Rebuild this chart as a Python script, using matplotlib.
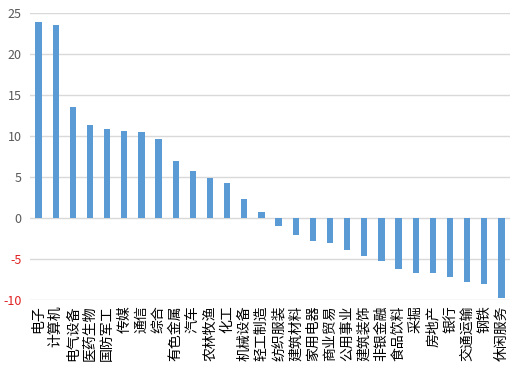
import matplotlib
matplotlib.use('Agg')
from matplotlib import pyplot as plt
import numpy as np

plt.rcParams['font.family'] = ['Noto Sans CJK SC', 'DejaVu Sans']

sectors = ['电子', '计算机', '电气设备', '医药生物', '国防军工', '传媒', '通信', '综合',
           '有色金属', '汽车', '农林牧渔', '化工', '机械设备', '轻工制造', '纺织服装',
           '建筑材料', '家用电器', '商业贸易', '公用事业', '建筑装饰', '非银金融',
           '食品饮料', '采掘', '房地产', '银行', '交通运输', '钢铁', '休闲服务']
returns = [23.9, 23.45, 13.45, 11.35, 10.8, 10.55, 10.4, 9.55,
           6.9, 5.65, 4.8, 4.3, 2.35, 0.77, -1.02,
           -2.1, -2.85, -3.1, -3.95, -4.7, -5.3,
           -6.27, -6.75, -6.75, -7.24, -7.85, -8.0, -9.7]
yticks = [-10, -5, 0, 5, 10, 15, 20, 25]

fig = plt.figure(figsize=(5.22, 3.68), dpi=100)
ax = fig.add_axes([30/522, 68/368, 480/522, 287.5/368])

x = np.arange(len(sectors))
ax.bar(x, returns, width=0.36, color='#5b9bd5', zorder=3)
ax.set_xlim(-0.5, len(sectors) - 0.5)
ax.set_ylim(-10, 25)
ax.set_yticks(yticks)
ax.set_yticklabels([str(v) for v in yticks], fontsize=9)
for lbl, v in zip(ax.get_yticklabels(), yticks):
    lbl.set_color('#e02020' if v < 0 else '#595959')

ax.set_xticks(x)
ax.set_xticklabels(sectors, rotation=90, fontsize=10, color='#000000')
ax.tick_params(axis='x', length=0, pad=4)
ax.tick_params(axis='y', length=0, pad=6)
ax.grid(axis='y', color='#d9d9d9', linewidth=1, zorder=0)
for s in ax.spines.values():
    s.set_visible(False)

plt.savefig('out.png', dpi=100)
